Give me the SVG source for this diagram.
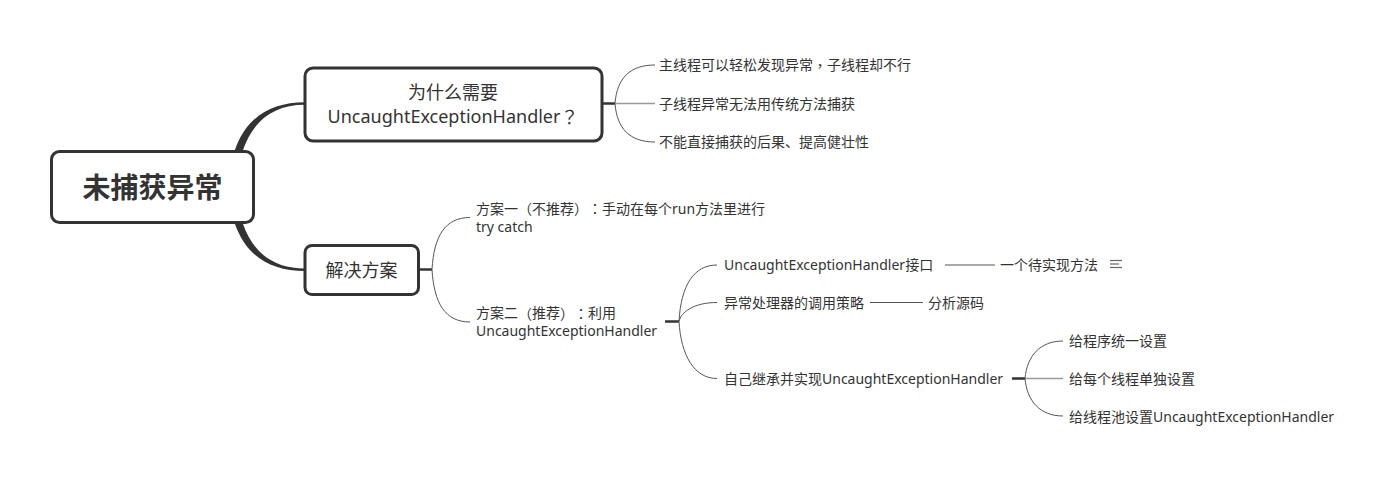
<svg xmlns="http://www.w3.org/2000/svg" width="1394" height="482" viewBox="0 0 1394 482">
<style>
text{font-family:"Noto Sans","Noto Sans CJK SC",sans-serif;fill:#333;dominant-baseline:central;text-spacing-trim:space-all}
.p{font-family:"Noto Sans CJK TC","Noto Sans CJK SC",sans-serif}
.t14{font-size:14px}
.t18{font-size:18px}
.root{font-size:28px;font-weight:bold}
.box{fill:#fff;stroke:#333;stroke-width:3}
.thin{fill:none;stroke:#555;stroke-width:1}
.mid{fill:none;stroke:#999;stroke-width:1.5}
.stub{fill:none;stroke:#333;stroke-width:2.5}
.taper{fill:#333}
.icon{stroke:#666;stroke-width:1.2}
</style>
<rect width="1394" height="482" fill="#fff"/>
<g id="connectors">
<path class="taper" d="M228,187 C232,128 260,102.2 305,102.2 L305,104.8 C264,104.8 240,132 236,187 Z"/>
<path class="taper" d="M228,187 C232,246 260,271 305,271 L305,268.5 C264,268.5 240,242 236,187 Z"/>
<line class="stub" x1="602" y1="103.5" x2="615" y2="103.5" stroke-width="3"/>
<path class="thin" d="M615,103.5 C617,78 630,65 655,65"/>
<line class="mid" x1="615" y1="103.5" x2="655" y2="103.5"/>
<path class="thin" d="M615,103.5 C617,129 630,142 655,142"/>
<line class="stub" x1="419" y1="269.5" x2="432" y2="269.5" stroke-width="2"/>
<path class="thin" d="M432,269.5 C434,236 445,217.5 470,217.5"/>
<path class="thin" d="M432,269.5 C434,303 445,322 470,322"/>
<line class="stub" x1="665" y1="321.5" x2="679" y2="321.5"/>
<path class="thin" d="M679,321.5 C681,285 694,265 717,265"/>
<path class="thin" d="M679,321.5 C681,312 694,302.5 717,302.5"/>
<path class="thin" d="M679,321.5 C681,355 694,378.5 717,378.5"/>
<line class="thin" x1="945" y1="265" x2="995" y2="265"/>
<line class="thin" x1="870" y1="302.5" x2="923" y2="302.5"/>
<line class="stub" x1="1012" y1="378.5" x2="1025" y2="378.5"/>
<path class="thin" d="M1025,378.5 C1027,356 1040,341 1063,341"/>
<line class="mid" x1="1025" y1="378.5" x2="1063" y2="378.5"/>
<path class="thin" d="M1025,378.5 C1027,401 1040,416 1063,416"/>
</g>
<g id="root">
<rect class="box" x="51.5" y="151.5" width="202" height="71" rx="8"/>
<text class="root" x="152.5" y="187" text-anchor="middle">未捕获异常</text>
</g>
<g id="why">
<rect class="box" x="305" y="68" width="297" height="73" rx="8"/>
<text class="t18" x="453" y="92" text-anchor="middle">为什么需要</text>
<text class="t18" x="453" y="116" text-anchor="middle">UncaughtExceptionHandler<tspan class="p">？</tspan></text>
</g>
<g id="why-1"><text class="t14" x="659" y="64.5">主线程可以轻松发现异常<tspan class="p">，</tspan>子线程却不行</text></g>
<g id="why-2"><text class="t14" x="659" y="103">子线程异常无法用传统方法捕获</text></g>
<g id="why-3"><text class="t14" x="659" y="141.5">不能直接捕获的后果、提高健壮性</text></g>
<g id="solution">
<rect class="box" x="305" y="245.5" width="113.5" height="49" rx="7"/>
<text class="t18" x="361.5" y="269.5" text-anchor="middle">解决方案</text>
</g>
<g id="plan1">
<text class="t14" x="476" y="208">方案一<tspan class="p">（</tspan>不推荐<tspan class="p">）</tspan><tspan class="p">：</tspan>手动在每个run方法里进行</text>
<text class="t14" x="476" y="226">try catch</text>
</g>
<g id="plan2">
<text class="t14" x="476" y="312.5">方案二<tspan class="p">（</tspan>推荐<tspan class="p">）</tspan><tspan class="p">：</tspan>利用</text>
<text class="t14" x="476" y="330.5">UncaughtExceptionHandler</text>
</g>
<g id="iface"><text class="t14" x="724" y="264.5">UncaughtExceptionHandler接口</text></g>
<g id="iface-1">
<text class="t14" x="1000" y="264.5">一个待实现方法</text>
<line class="icon" x1="1110" y1="260.5" x2="1122" y2="260.5"/>
<line class="icon" x1="1110" y1="264" x2="1119" y2="264"/>
<line class="icon" x1="1110" y1="267.5" x2="1122" y2="267.5"/>
</g>
<g id="policy"><text class="t14" x="724" y="302">异常处理器的调用策略</text></g>
<g id="policy-1"><text class="t14" x="928" y="302">分析源码</text></g>
<g id="custom"><text class="t14" x="724" y="378">自己继承并实现UncaughtExceptionHandler</text></g>
<g id="custom-1"><text class="t14" x="1069" y="340.5">给程序统一设置</text></g>
<g id="custom-2"><text class="t14" x="1069" y="378">给每个线程单独设置</text></g>
<g id="custom-3"><text class="t14" x="1069" y="416">给线程池设置UncaughtExceptionHandler</text></g>
</svg>
